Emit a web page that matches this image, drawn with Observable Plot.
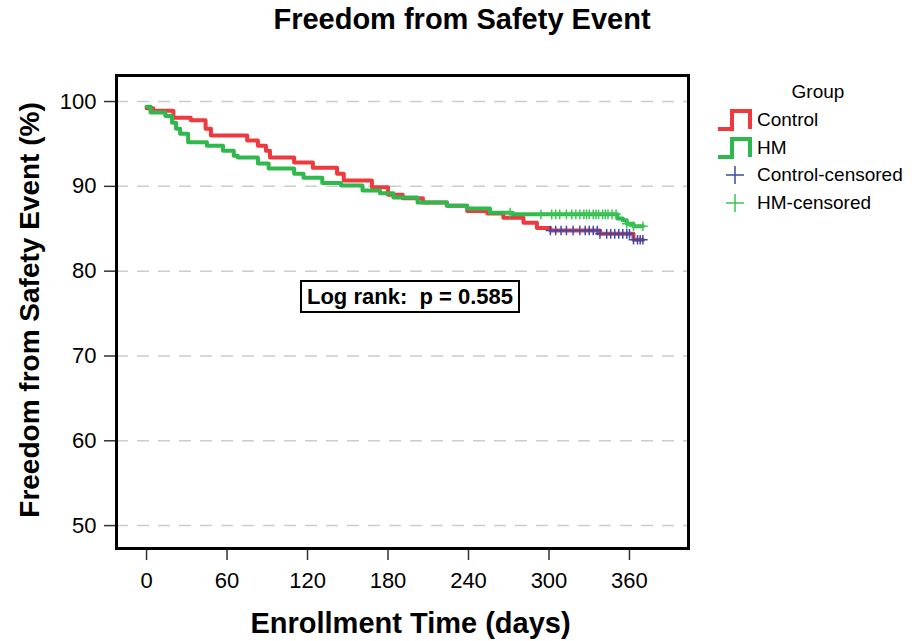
<!DOCTYPE html>
<html>
<head>
<meta charset="utf-8">
<script src="https://cdn.jsdelivr.net/npm/d3@7"></script>
<script src="https://cdn.jsdelivr.net/npm/@observablehq/plot@0.6"></script>
<style>
  body { margin: 0; background: white; }
  #wrap { position: relative; width: 912px; height: 641px; font-family: "Liberation Sans", Arial, sans-serif; color: black; }
  #title { position: absolute; top: 0; left: 12px; width: 900px; text-align: center; font-weight: bold; font-size: 29px; line-height: 38px; }
  #chart { position: absolute; top: 40px; left: 0; }
  #legend { position: absolute; left: 716px; top: 80px; width: 196px; font-size: 19px; }
  #legend .ttl { text-align: center; padding-left: 8px; height: 26px; line-height: 24px; }
  #legend .row { display: flex; align-items: center; height: 27.7px; }
  #legend .row svg { flex: none; }
  #logrank { position: absolute; left: 300px; top: 280px; width: 220px; height: 33px; box-sizing: border-box; border: 2px solid black; font-weight: bold; font-size: 22px; line-height: 29px; text-align: center; background: white; white-space: pre; }
</style>
</head>
<body>
<div id="wrap">
  <div id="title"></div>
  <div id="chart"></div>
  <div id="legend"></div>
  <div id="logrank"></div>
</div>
<script>
// ---- Data ----
const titleText = "Freedom from Safety Event";
const xLabel = "Enrollment Time (days)";
const yLabel = "Freedom from Safety Event (%)";
const annotationText = "Log rank:  p = 0.585";
const legendTitle = "Group";

const xTicks = [0, 60, 120, 180, 240, 300, 360];
const yTicks = [50, 60, 70, 80, 90, 100];

// Control (Kaplan-Meier step curve): time in days, survival in %
const controlTime = [0, 5, 20, 33, 44, 48, 75, 83, 89, 92, 110, 124, 142, 147, 168, 180, 191, 206, 224, 239, 254, 266, 281, 291, 301, 338, 363, 370];
const controlSurv = [99.2, 98.9, 98.1, 97.8, 96.8, 96.0, 95.4, 94.8, 94.2, 93.4, 92.8, 92.2, 91.5, 90.7, 89.9, 89.0, 88.6, 88.1, 87.7, 87.1, 86.8, 86.3, 85.7, 85.1, 84.8, 84.4, 83.7, 83.7];

// HM
const hmTime = [0, 3, 14, 19, 22, 25, 31, 45, 57, 65, 68, 83, 91, 110, 117, 131, 145, 161, 174, 184, 202, 224, 239, 256, 273, 351, 355, 358, 363, 370];
const hmSurv = [99.4, 98.7, 98.3, 97.5, 96.8, 96.2, 95.2, 94.8, 94.2, 93.6, 93.4, 92.7, 92.1, 91.5, 91.0, 90.4, 90.1, 89.5, 89.2, 88.7, 88.1, 87.7, 87.4, 86.9, 86.7, 86.2, 86.0, 85.6, 85.3, 85.3];

// Censoring times (days)
const controlCensorTime = [301, 305, 309, 313, 318, 323, 327, 330, 333, 336, 338, 343, 346, 349, 352, 355, 358, 360, 363, 366, 368, 370];
const hmCensorTime = [271, 294, 302, 305, 308, 313, 317, 320, 323, 326, 328, 330, 333, 335, 337, 340, 342, 344, 347, 350, 358, 363, 370];

const groups = ["Control", "HM", "Control-censored", "HM-censored"];
const colors = { "Control": "#ee3a3f", "HM": "#2fb84c", "Control-censored": "#3b4ba8", "HM-censored": "#3cc455" };

// ---- Build tables ----
const controlData = controlTime.map((t, i) => ({ t, s: controlSurv[i] }));
const hmData = hmTime.map((t, i) => ({ t, s: hmSurv[i] }));
function survAt(times, surv, t) {
  const i = d3.bisectRight(times, t) - 1;
  return surv[Math.max(0, i)];
}
const controlCensor = controlCensorTime.map(t => ({ t, s: survAt(controlTime, controlSurv, t) }));
const hmCensor = hmCensorTime.map(t => ({ t, s: survAt(hmTime, hmSurv, t) }));

// ---- Title / annotation ----
document.getElementById("title").textContent = titleText;
document.getElementById("logrank").textContent = annotationText;

// ---- Chart ----
const chart = Plot.plot({
  width: 912,
  height: 601,
  marginTop: 35,
  marginBottom: 93,
  marginLeft: 116,
  marginRight: 224,
  x: { domain: [-22.4, 404] },
  y: { domain: [47.3, 103.07] },
  style: { fontFamily: "Liberation Sans, Arial, sans-serif", color: "black", background: "white", overflow: "visible" },
  marks: [
    Plot.ruleY(yTicks, { stroke: "#cccccc", strokeWidth: 1.5, strokeDasharray: "12,9" }),
    Plot.axisY({ ticks: yTicks, tickSize: 12, tickPadding: 8, fontSize: 22, label: null, stroke: "#333", strokeWidth: 1.5 }),
    Plot.axisX({ ticks: xTicks, tickSize: 12, tickPadding: 12, fontSize: 22, label: null, stroke: "#333", strokeWidth: 1.5 }),
    Plot.line(controlData, { x: "t", y: "s", curve: "step-after", stroke: colors["Control"], strokeWidth: 4 }),
    Plot.line(hmData, { x: "t", y: "s", curve: "step-after", stroke: colors["HM"], strokeWidth: 4 }),
    Plot.dot(hmCensor, { x: "t", y: "s", symbol: "plus", r: 3.2, stroke: colors["HM-censored"], strokeWidth: 1.5 }),
    Plot.dot(controlCensor, { x: "t", y: "s", symbol: "plus", r: 3.2, stroke: colors["Control-censored"], strokeWidth: 1.5 }),
    Plot.frame({ stroke: "black", strokeWidth: 3 }),
    Plot.text([xLabel], { text: d => d, frameAnchor: "bottom", lineAnchor: "middle", dy: 75, dx: 8, fontSize: 29, fontWeight: "bold" }),
    Plot.text([yLabel], { text: d => d, frameAnchor: "left", textAnchor: "middle", lineAnchor: "middle", rotate: -90, dx: -86, dy: -2, fontSize: 28, fontWeight: "bold" })
  ]
});
document.getElementById("chart").appendChild(chart);

// ---- Legend ----
const legend = d3.select("#legend");
legend.append("div").attr("class", "ttl").text(legendTitle);
groups.forEach(g => {
  const row = legend.append("div").attr("class", "row");
  const svg = row.append("svg").attr("width", 41).attr("height", 28);
  if (g.endsWith("censored")) {
    svg.append("path").attr("d", "M10,14H28M19,5V23").attr("stroke", colors[g]).attr("stroke-width", 1.5).attr("fill", "none");
  } else {
    svg.append("path").attr("d", "M2,23H16V5H34V23").attr("stroke", colors[g]).attr("stroke-width", 4).attr("fill", "none").attr("stroke-linejoin", "miter");
  }
  row.append("span").text(g);
});
</script>
</body>
</html>
